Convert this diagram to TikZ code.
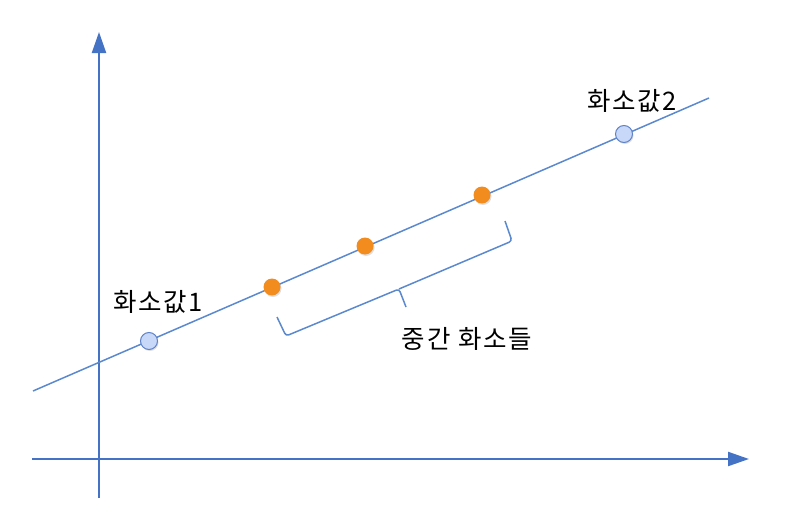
\documentclass[tikz,border=0pt]{standalone}
\usepackage{fontspec}
\newfontfamily\kr[LetterSpace=7]{Noto Sans CJK KR}
\usetikzlibrary{arrows.meta,shadows}
\definecolor{axisblue}{RGB}{68,114,196}
\definecolor{lineblue}{RGB}{91,137,206}
\definecolor{ptfill}{RGB}{200,216,248}
\definecolor{ptdraw}{RGB}{95,130,200}
\definecolor{orangept}{RGB}{242,140,30}
\tikzset{
  axis/.style={draw=axisblue, line width=2.2pt, -{Triangle[length=21pt,width=14pt]}},
  dataline/.style={draw=lineblue, line width=1.5pt},
  bluept/.style={circle, draw=ptdraw, line width=1pt, fill=ptfill, minimum size=17pt, inner sep=0pt,
     drop shadow={opacity=0.25, shadow xshift=1pt, shadow yshift=-1.5pt}},
  orpt/.style={circle, fill=orangept, minimum size=17pt, inner sep=0pt,
     drop shadow={opacity=0.25, shadow xshift=1pt, shadow yshift=-1.5pt}},
  lbl/.style={font=\kr\fontsize{25.5}{30}\selectfont, inner sep=0pt},
  bracestyle/.style={draw=lineblue, line width=1.5pt, rounded corners=3pt}
}
\begin{document}
\begin{tikzpicture}[x=1pt,y=-1pt]
\useasboundingbox (0,0) rectangle (787,514);
% axes
\coordinate (ybot) at (99,498);
\coordinate (ytop) at (99,32);
\coordinate (xl) at (32,459);
\coordinate (xr) at (749,459);
\draw[axis] (ybot) -- (ytop);
\draw[axis] (xl) -- (xr);
% data line
\coordinate (l0) at (33,391);
\coordinate (l1) at (709,98);
\draw[dataline] (l0) -- (l1);
% points
\node[bluept] (p1) at (149,341) {};
\node[bluept] (p2) at (624,134) {};
\node[orpt] (m1) at (272,287) {};
\node[orpt] (m2) at (365,246) {};
\node[orpt] (m3) at (482,195) {};
% labels
\node[lbl] (t1) at (158,302) {화소값1};
\node[lbl] (t2) at (632,101) {화소값2};
% brace
\coordinate (ba) at (277,317);
\coordinate (bb) at (286,336);
\coordinate (bm) at (399,289);
\coordinate (bt) at (406,307);
\coordinate (bb2) at (512,241);
\coordinate (ba2) at (505,221);
\draw[bracestyle] (ba) -- (bb) -- (bm) -- (bt);
\draw[bracestyle] (bm) -- (bb2) -- (ba2);
\node[lbl] (t3) at (467,339) {중간 화소들};
\end{tikzpicture}
\end{document}
